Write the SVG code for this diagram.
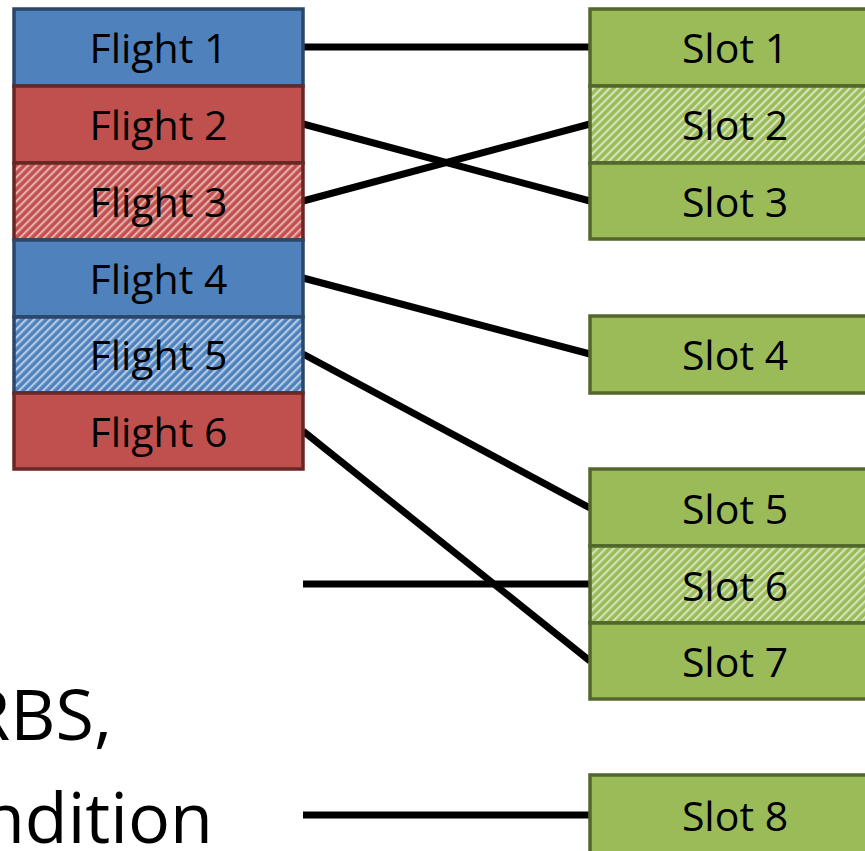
<svg xmlns="http://www.w3.org/2000/svg" width="865" height="851" viewBox="0 0 865 851">
<style>
.t{font-family:"Open Sans","Noto Sans","Liberation Sans",sans-serif;font-size:41px;fill:#000;text-anchor:middle}
.big{font-family:"Open Sans","Noto Sans","Liberation Sans",sans-serif;font-size:70px;fill:#000;text-anchor:end}
.b{fill:#4F81BD;stroke:#2A4669;stroke-width:3.5}
.bh{fill:url(#hB);stroke:#2A4669;stroke-width:3.5}
.r{fill:#C0504D;stroke:#662725;stroke-width:3.5}
.rh{fill:url(#hR);stroke:#662725;stroke-width:3.5}
.g{fill:#9BBB59;stroke:#52672B;stroke-width:3.5}
.gh{fill:url(#hG);stroke:#52672B;stroke-width:3.5}
.c line{stroke:#000;stroke-width:7}
</style>
<defs>
<pattern id="hB" patternUnits="userSpaceOnUse" width="5.66" height="5.66" patternTransform="rotate(45)">
<rect width="5.66" height="5.66" fill="#4F81BD"/><rect width="2.2" height="5.66" fill="#B3C9E3"/>
</pattern>
<pattern id="hR" patternUnits="userSpaceOnUse" width="5.66" height="5.66" patternTransform="rotate(45)">
<rect width="5.66" height="5.66" fill="#C0504D"/><rect width="2.2" height="5.66" fill="#E3ABA9"/>
</pattern>
<pattern id="hG" patternUnits="userSpaceOnUse" width="5.66" height="5.66" patternTransform="rotate(45)">
<rect width="5.66" height="5.66" fill="#9BBB59"/><rect width="2.2" height="5.66" fill="#D5E3BA"/>
</pattern>
</defs>
<g class="c" id="connectors">
<line x1="303" y1="47" x2="590" y2="47"/>
<line x1="303" y1="124" x2="590" y2="201"/>
<line x1="303" y1="201" x2="590" y2="124"/>
<line x1="303" y1="278" x2="590" y2="354"/>
<line x1="303" y1="354" x2="590" y2="508"/>
<line x1="303" y1="431" x2="590" y2="661"/>
<line x1="303" y1="584" x2="590" y2="584"/>
<line x1="303" y1="815" x2="590" y2="815"/>
</g>
<g id="flight1"><rect class="b" x="14" y="9" width="289" height="77"/><text class="t" x="158.5" y="63">Flight 1</text></g>
<g id="flight2"><rect class="r" x="14" y="86" width="289" height="77"/><text class="t" x="158.5" y="140">Flight 2</text></g>
<g id="flight3"><rect class="rh" x="14" y="163" width="289" height="77"/><text class="t" x="158.5" y="217">Flight 3</text></g>
<g id="flight4"><rect class="b" x="14" y="240" width="289" height="77"/><text class="t" x="158.5" y="294">Flight 4</text></g>
<g id="flight5"><rect class="bh" x="14" y="317" width="289" height="76"/><text class="t" x="158.5" y="370">Flight 5</text></g>
<g id="flight6"><rect class="r" x="14" y="393" width="289" height="76"/><text class="t" x="158.5" y="447">Flight 6</text></g>
<g id="slot1"><rect class="g" x="590" y="9" width="290" height="77"/><text class="t" x="735" y="63">Slot 1</text></g>
<g id="slot2"><rect class="gh" x="590" y="86" width="290" height="77"/><text class="t" x="735" y="140">Slot 2</text></g>
<g id="slot3"><rect class="g" x="590" y="163" width="290" height="76"/><text class="t" x="735" y="217">Slot 3</text></g>
<g id="slot4"><rect class="g" x="590" y="316" width="290" height="77"/><text class="t" x="735" y="370">Slot 4</text></g>
<g id="slot5"><rect class="g" x="590" y="469" width="290" height="77"/><text class="t" x="735" y="524">Slot 5</text></g>
<g id="slot6"><rect class="gh" x="590" y="546" width="290" height="77"/><text class="t" x="735" y="601">Slot 6</text></g>
<g id="slot7"><rect class="g" x="590" y="623" width="290" height="76"/><text class="t" x="735" y="677">Slot 7</text></g>
<g id="slot8"><rect class="g" x="590" y="775" width="290" height="80"/><text class="t" x="735" y="831">Slot 8</text></g>
<text class="big" x="112" y="740">RBS,</text>
<text class="big" x="213" y="843">ndition</text>
</svg>
